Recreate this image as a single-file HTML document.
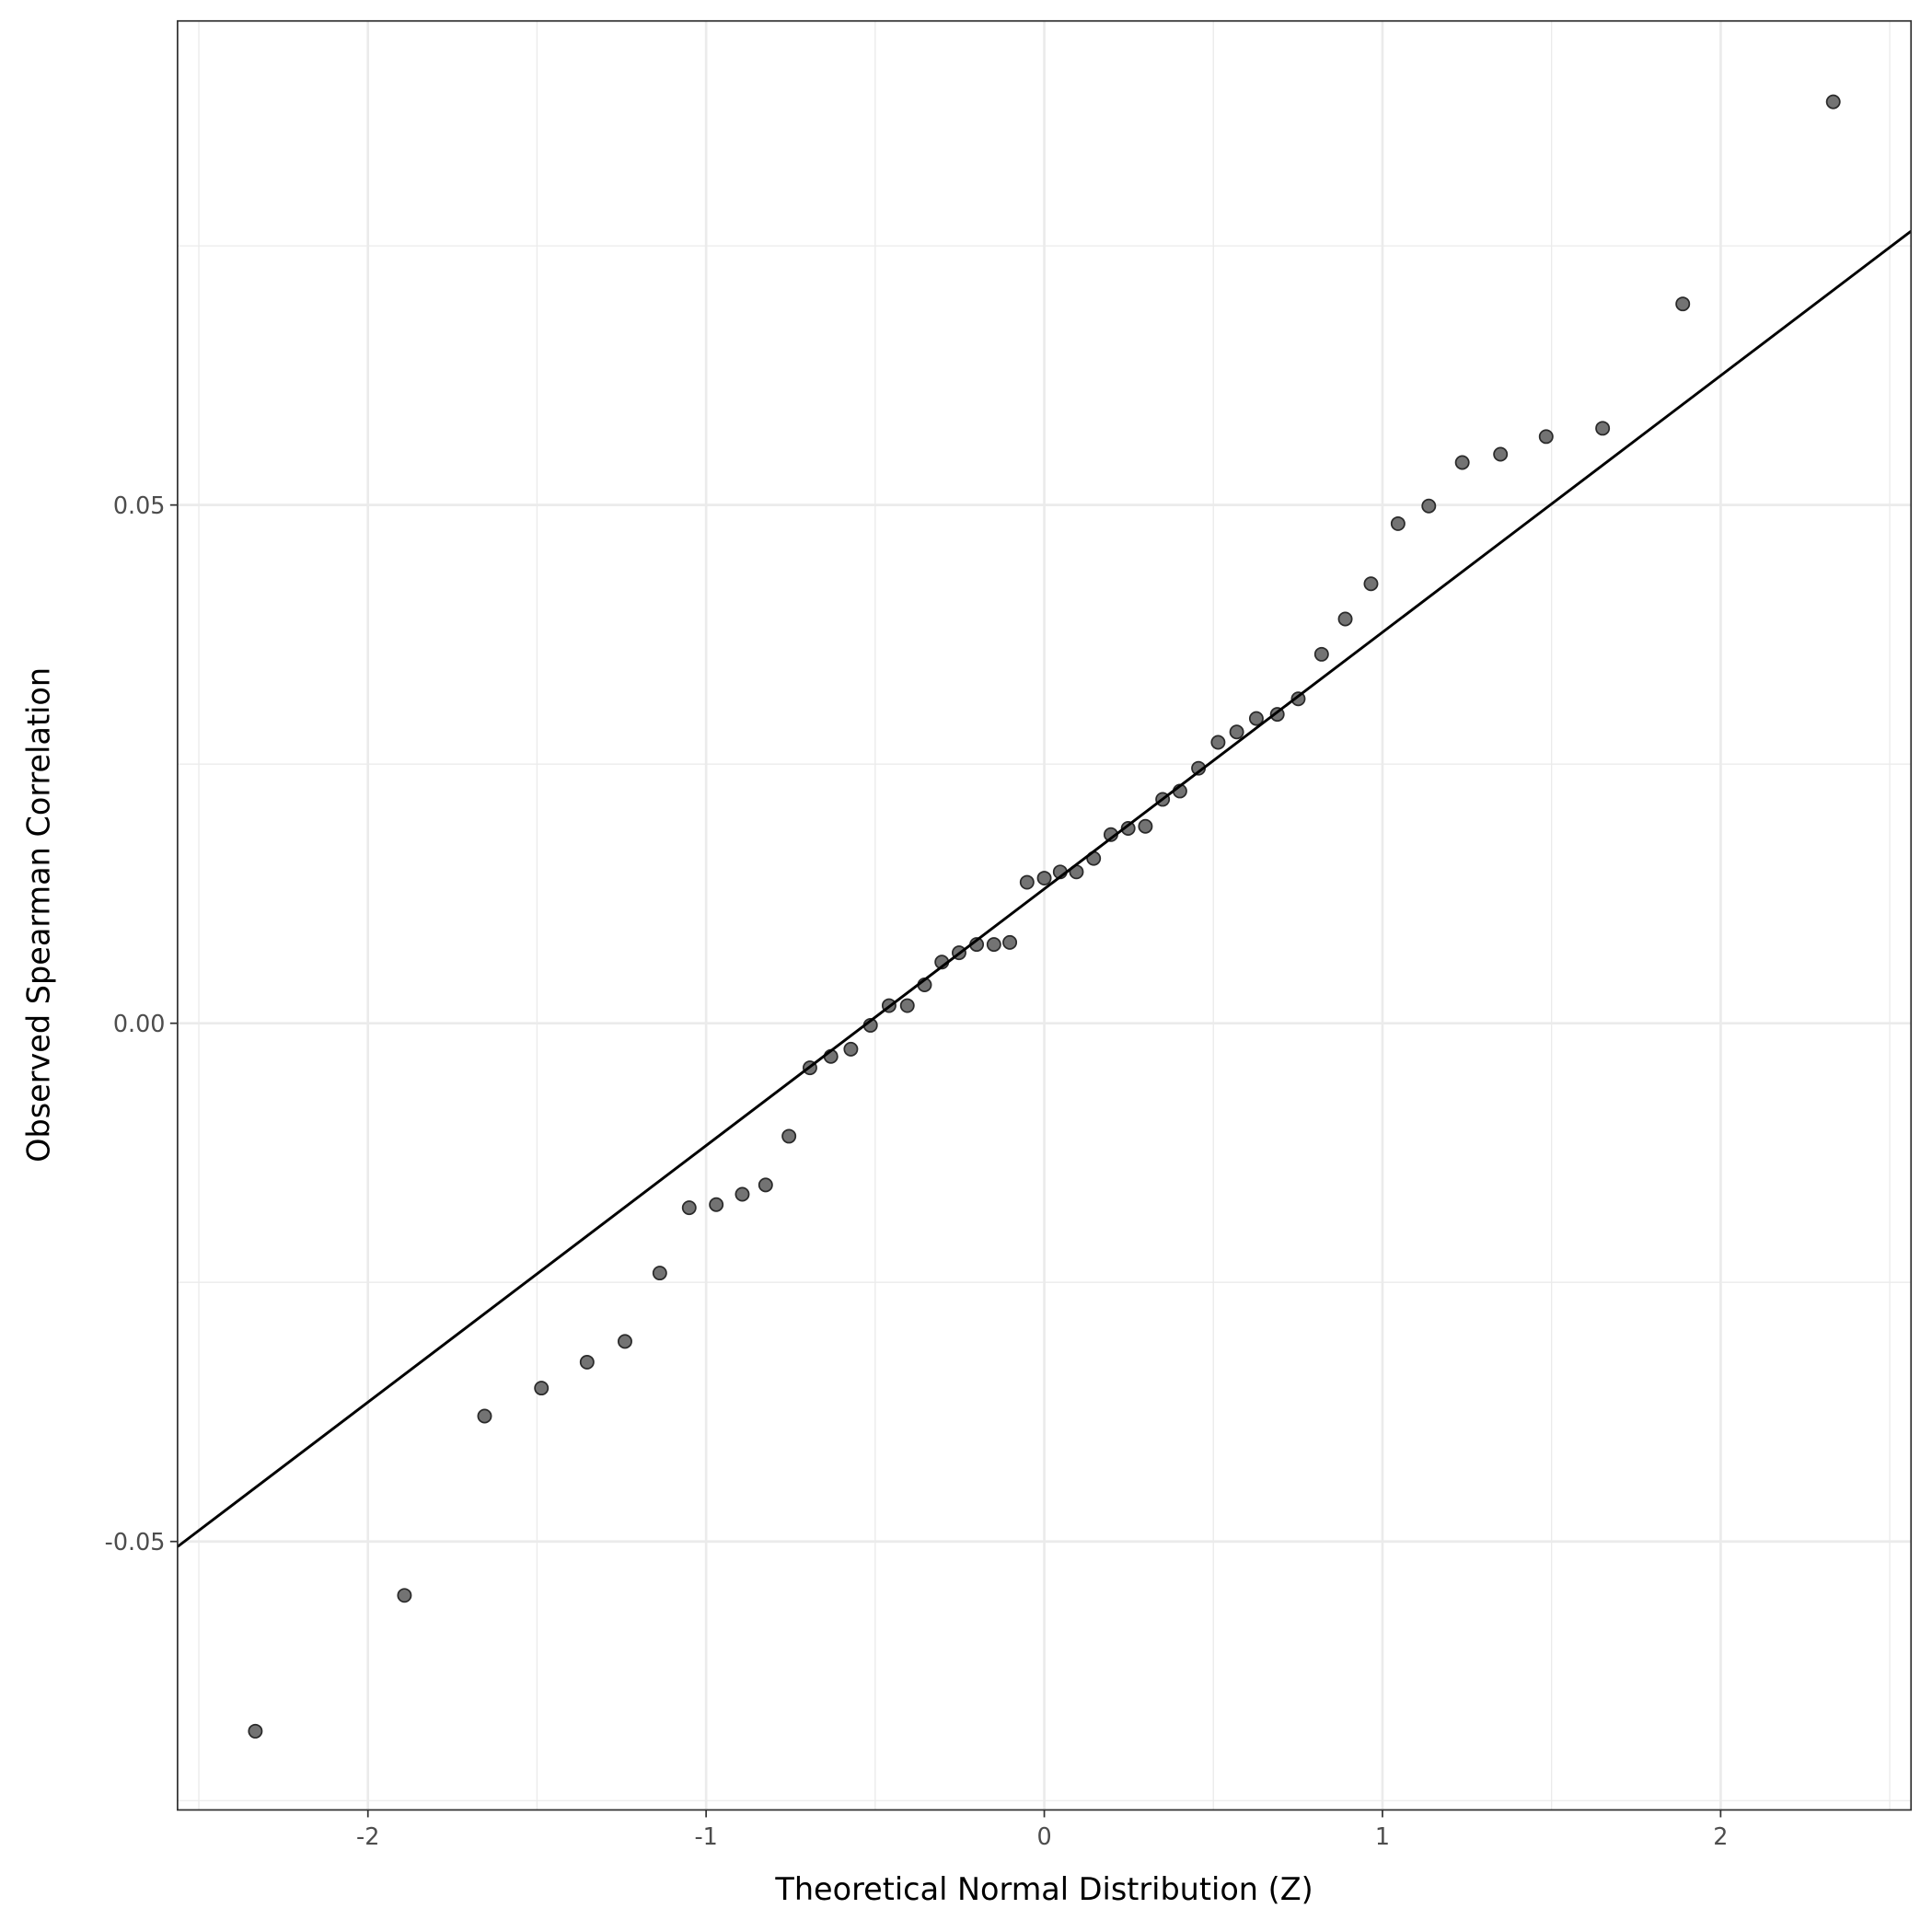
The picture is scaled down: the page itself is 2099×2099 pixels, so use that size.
<!DOCTYPE html>
<html><head><meta charset="utf-8"><style>html,body{margin:0;padding:0;background:#fff}svg{display:block}</style></head>
<body>
<svg id="chart" width="2099" height="2099" viewBox="0 0 1567 1567" xmlns="http://www.w3.org/2000/svg" font-family="DejaVu Sans, Liberation Sans, sans-serif">
<rect x="0" y="0" width="1567" height="1567" fill="#fff"/>
<g id="grid"></g>
<g id="marks"></g>
<rect x="144" y="17" width="1406" height="1451" fill="none" stroke="#333" stroke-width="1.3"/>
<g id="axes"></g>
<text x="847" y="1541" text-anchor="middle" font-size="25" fill="#000">Theoretical Normal Distribution (Z)</text>
<text transform="translate(40,742) rotate(-90)" text-anchor="middle" font-size="25" fill="#000">Observed Spearman Correlation</text>
</svg>
<script>
const theoreticalZ = [-2.333,-1.892,-1.655,-1.487,-1.352,-1.240,-1.137,-1.050,-0.970,-0.893,-0.824,-0.755,-0.693,-0.631,-0.572,-0.514,-0.459,-0.405,-0.354,-0.303,-0.252,-0.200,-0.149,-0.102,-0.051,0,0.047,0.095,0.146,0.197,0.248,0.299,0.350,0.401,0.456,0.514,0.569,0.627,0.689,0.751,0.820,0.890,0.966,1.046,1.137,1.236,1.349,1.484,1.651,1.888,2.333];
const observedCorr = [-0.0683,-0.0552,-0.0379,-0.0352,-0.0327,-0.0307,-0.0241,-0.0178,-0.0175,-0.0165,-0.0156,-0.0109,-0.0043,-0.0032,-0.0025,-0.0002,0.0017,0.0017,0.0037,0.0059,0.0068,0.0076,0.0076,0.0078,0.0136,0.0140,0.0146,0.0146,0.0159,0.0182,0.0188,0.0190,0.0216,0.0224,0.0246,0.0271,0.0281,0.0294,0.0298,0.0313,0.0356,0.0390,0.0424,0.0482,0.0499,0.0541,0.0549,0.0566,0.0574,0.0694,0.0889];
const refLine = [0.01296, 0.02476]; // intercept, slope
const xTicks = [-2,-1,0,1,2];
const xMinor = [-2.5,-1.5,-0.5,0.5,1.5,2.5];
const yTicks = [-0.05,0,0.05];
const yTickLabels = ["-0.05","0.00","0.05"];
const yMinor = [-0.075,-0.025,0.025,0.075];
const xDomain = [-2.563, 2.563];
const yDomain = [-0.0759, 0.0967];

const L=144,R=1550,T=17,B=1468;
const sx=v=>L+(v-xDomain[0])/(xDomain[1]-xDomain[0])*(R-L);
const sy=v=>B-(v-yDomain[0])/(yDomain[1]-yDomain[0])*(B-T);
const NS="http://www.w3.org/2000/svg";
function mk(tag,attrs,parent){const e=document.createElementNS(NS,tag);for(const k in attrs)e.setAttribute(k,attrs[k]);parent.appendChild(e);return e;}
const grid=document.getElementById('grid'),marks=document.getElementById('marks'),axes=document.getElementById('axes');
xMinor.forEach(v=>{const e=mk('line',{x1:sx(v),x2:sx(v),y1:T,y2:B,stroke:'#ebebeb','stroke-width':1},grid);

});
yMinor.forEach(v=>{const e=mk('line',{x1:L,x2:R,y1:sy(v),y2:sy(v),stroke:'#ebebeb','stroke-width':1},grid);

});
xTicks.forEach(v=>{const e=mk('line',{x1:sx(v),x2:sx(v),y1:T,y2:B,stroke:'#ebebeb','stroke-width':2},grid);


const t=mk('line',{x1:sx(v),x2:sx(v),y1:B,y2:B+6,stroke:'#333','stroke-width':1.3},axes);


const l=mk('text',{x:sx(v),y:B+28,'text-anchor':'middle','font-size':19,fill:'#4d4d4d'},axes);l.textContent=String(v);

});
yTicks.forEach((v,i)=>{const e=mk('line',{x1:L,x2:R,y1:sy(v),y2:sy(v),stroke:'#ebebeb','stroke-width':2},grid);


const t=mk('line',{x1:L-6,x2:L,y1:sy(v),y2:sy(v),stroke:'#333','stroke-width':1.3},axes);


const l=mk('text',{x:L-10,y:sy(v)+7,'text-anchor':'end','font-size':19,fill:'#4d4d4d'},axes);l.textContent=yTickLabels[i];

});
theoreticalZ.forEach((z,i)=>{const c=mk('circle',{cx:sx(z),cy:sy(observedCorr[i]),r:5.3,fill:'#737373',stroke:'#2a2a2a','stroke-width':1.3},marks);

});
const ln=mk('line',{x1:sx(xDomain[0]),y1:sy(refLine[0]+refLine[1]*xDomain[0]),x2:sx(xDomain[1]),y2:sy(refLine[0]+refLine[1]*xDomain[1]),stroke:'#000','stroke-width':2.2},marks);


</script>
</body></html>
